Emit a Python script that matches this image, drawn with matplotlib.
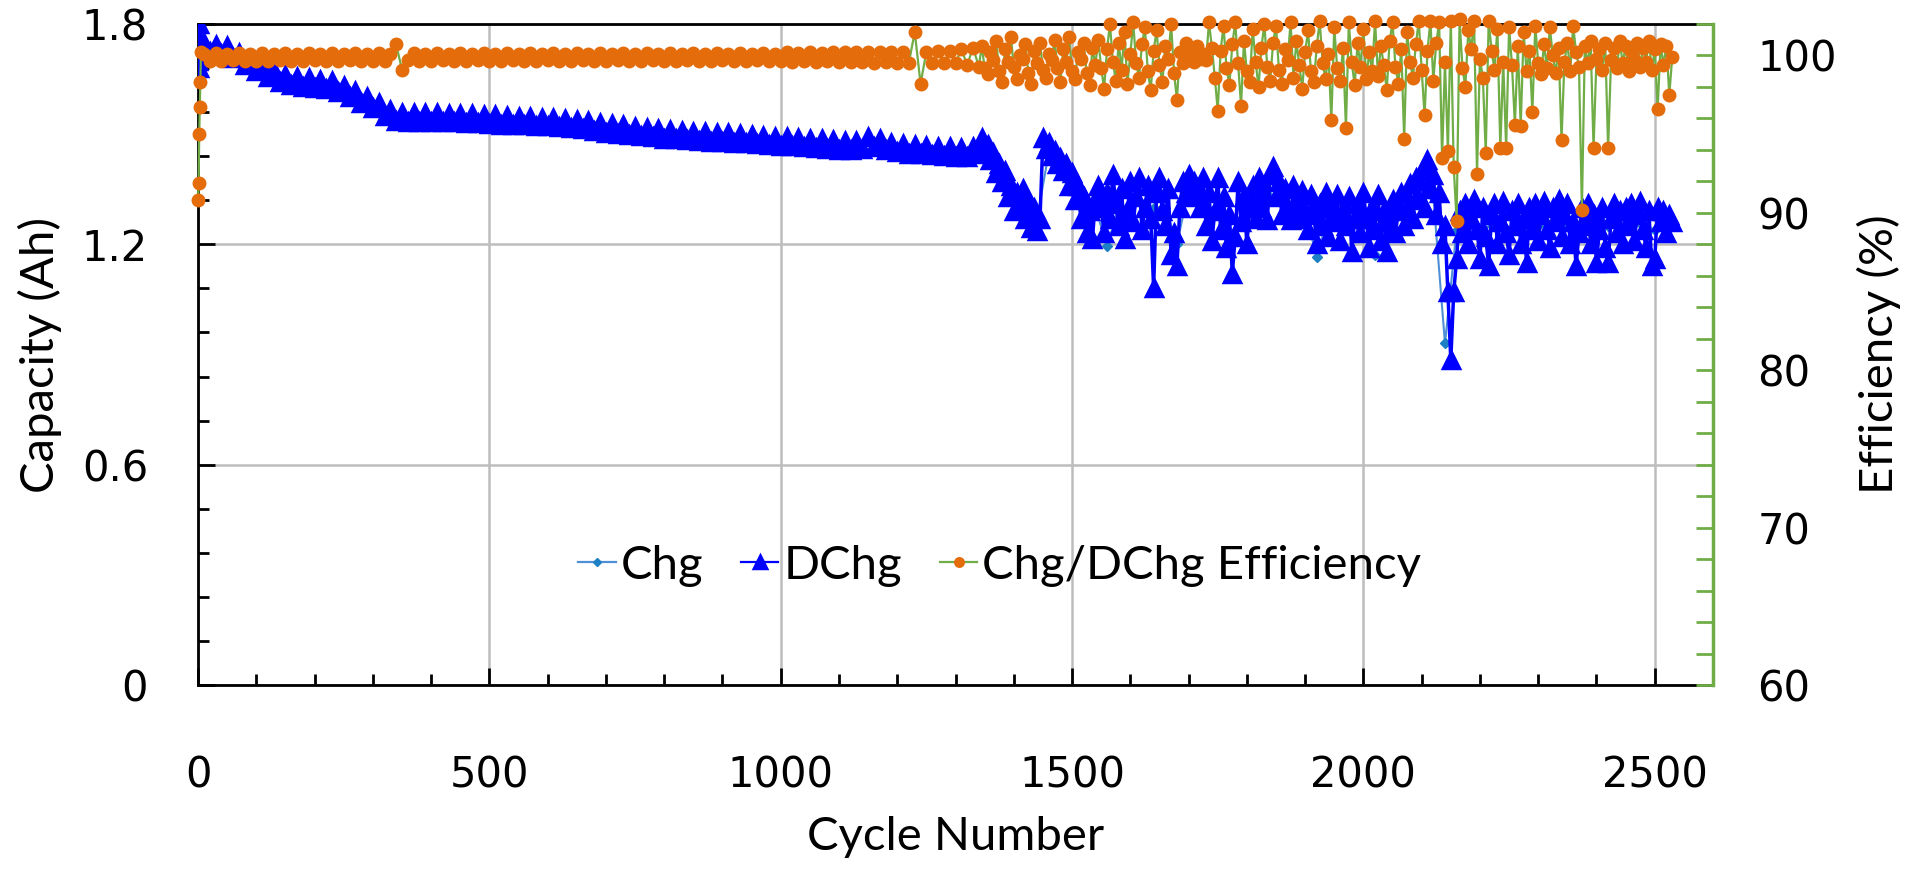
import numpy as np
import matplotlib
matplotlib.use('Agg')
import matplotlib.pyplot as plt
from matplotlib.ticker import MultipleLocator, FuncFormatter

# first cycles, read one by one
dchg_start_cycles = [0, 1, 2, 3, 5]
dchg_start = [1.700, 1.680, 1.800, 1.755, 1.745]
eff_start_cycles = [0, 1, 2, 3, 4, 5]
eff_start = [90.8, 91.9, 95.0, 96.7, 98.3, 100.2]

# discharge capacity (Ah), read every 10 cycles from 10 to 1340
dchg_early = [
    1.747, 1.723, 1.744, 1.718, 1.739, 1.708, 1.722, 1.688, 1.705, 1.673,
    1.689, 1.656, 1.672, 1.643, 1.662, 1.635, 1.656, 1.629, 1.652, 1.626,
    1.648, 1.622, 1.644, 1.616, 1.632, 1.600, 1.617, 1.586, 1.602, 1.570,
    1.584, 1.550, 1.565, 1.535, 1.557, 1.534, 1.558, 1.533, 1.558, 1.533,
    1.557, 1.533, 1.556, 1.532, 1.555, 1.531, 1.554, 1.530, 1.553, 1.528,
    1.551, 1.526, 1.550, 1.525, 1.548, 1.524, 1.547, 1.523, 1.545, 1.521,
    1.544, 1.519, 1.542, 1.517, 1.539, 1.514, 1.536, 1.510, 1.531, 1.504,
    1.527, 1.501, 1.524, 1.498, 1.520, 1.495, 1.517, 1.491, 1.514, 1.488,
    1.511, 1.486, 1.509, 1.484, 1.507, 1.482, 1.505, 1.480, 1.503, 1.478,
    1.502, 1.477, 1.500, 1.475, 1.498, 1.473, 1.496, 1.470, 1.493, 1.469,
    1.492, 1.467, 1.490, 1.465, 1.488, 1.463, 1.486, 1.461, 1.483, 1.458,
    1.481, 1.457, 1.482, 1.460, 1.492, 1.464, 1.487, 1.456, 1.477, 1.452,
    1.472, 1.447, 1.470, 1.445, 1.468, 1.443, 1.466, 1.441, 1.464, 1.439,
    1.462, 1.437, 1.464, 1.446,
]

# discharge capacity (Ah), read every 5 cycles from 1345 to 2530
dchg_late = [
    1.490, 1.455, 1.470, 1.430, 1.450, 1.395, 1.420, 1.370, 1.400, 1.330,
    1.360, 1.290, 1.340, 1.300, 1.350, 1.270, 1.320, 1.245, 1.300, 1.235,
    1.270, 1.490, 1.460, 1.475, 1.440, 1.455, 1.420, 1.435, 1.400, 1.420,
    1.360, 1.395, 1.320, 1.360, 1.270, 1.330, 1.230, 1.290, 1.215, 1.320,
    1.360, 1.300, 1.230, 1.340, 1.270, 1.390, 1.310, 1.250, 1.350, 1.215,
    1.290, 1.370, 1.260, 1.330, 1.380, 1.240, 1.300, 1.360, 1.270, 1.080,
    1.340, 1.380, 1.290, 1.250, 1.350, 1.170, 1.230, 1.140, 1.300, 1.370,
    1.340, 1.390, 1.330, 1.370, 1.345, 1.300, 1.380, 1.250, 1.340, 1.210,
    1.290, 1.380, 1.240, 1.330, 1.190, 1.280, 1.120, 1.220, 1.370, 1.260,
    1.330, 1.200, 1.300, 1.360, 1.270, 1.380, 1.300, 1.340, 1.265, 1.390,
    1.410, 1.330, 1.370, 1.280, 1.350, 1.300, 1.265, 1.360, 1.310, 1.270,
    1.345, 1.290, 1.240, 1.335, 1.280, 1.200, 1.310, 1.250, 1.340, 1.220,
    1.300, 1.260, 1.335, 1.210, 1.290, 1.250, 1.330, 1.180, 1.270, 1.310,
    1.230, 1.340, 1.270, 1.190, 1.300, 1.240, 1.335, 1.210, 1.290, 1.180,
    1.260, 1.320, 1.230, 1.290, 1.340, 1.250, 1.300, 1.365, 1.270, 1.380,
    1.320, 1.400, 1.300, 1.430, 1.350, 1.390, 1.280, 1.340, 1.200, 1.250,
    1.070, 0.885, 1.070, 1.160, 1.290, 1.230, 1.310, 1.200, 1.270, 1.320,
    1.240, 1.160, 1.300, 1.220, 1.140, 1.280, 1.310, 1.200, 1.260, 1.315,
    1.230, 1.170, 1.290, 1.250, 1.310, 1.200, 1.270, 1.150, 1.300, 1.240,
    1.310, 1.210, 1.280, 1.315, 1.240, 1.190, 1.300, 1.260, 1.320, 1.220,
    1.280, 1.310, 1.200, 1.260, 1.140, 1.230, 1.300, 1.250, 1.310, 1.200,
    1.280, 1.150, 1.240, 1.300, 1.190, 1.150, 1.270, 1.310, 1.230, 1.290,
    1.200, 1.300, 1.250, 1.310, 1.210, 1.280, 1.315, 1.240, 1.190, 1.290,
    1.140, 1.160, 1.300, 1.260, 1.290, 1.230, 1.280, 1.260,
]

# charge capacity (Ah), read every 20 cycles from 0 to 2520
chg = [
    1.720, 1.735, 1.728, 1.718, 1.700, 1.685, 1.668, 1.655, 1.647, 1.641,
    1.638, 1.634, 1.628, 1.612, 1.598, 1.582, 1.562, 1.547, 1.546, 1.545,
    1.545, 1.544, 1.543, 1.542, 1.541, 1.540, 1.538, 1.536, 1.535, 1.534,
    1.533, 1.531, 1.528, 1.525, 1.521, 1.517, 1.514, 1.511, 1.507, 1.504,
    1.501, 1.499, 1.497, 1.495, 1.493, 1.491, 1.489, 1.487, 1.485, 1.483,
    1.481, 1.479, 1.477, 1.475, 1.472, 1.470, 1.469, 1.470, 1.475, 1.467,
    1.465, 1.461, 1.458, 1.456, 1.454, 1.452, 1.450, 1.455, 1.440, 1.390,
    1.330, 1.310, 1.270, 1.450, 1.410, 1.370, 1.290, 1.300, 1.195, 1.300,
    1.310, 1.310, 1.300, 1.300, 1.200, 1.350, 1.340, 1.290, 1.280, 1.220,
    1.280, 1.310, 1.330, 1.320, 1.310, 1.290, 1.165, 1.280, 1.270, 1.270,
    1.280, 1.170, 1.270, 1.280, 1.290, 1.330, 1.330, 0.930, 1.240, 1.250,
    1.240, 1.250, 1.250, 1.240, 1.250, 1.250, 1.250, 1.250, 1.240, 1.250,
    1.250, 1.250, 1.240, 1.250, 1.250, 1.240, 1.270,
]

# charge/discharge efficiency (%), read every 10 cycles from 10 to 1340
eff_early = [
    100.1, 99.65, 100.15, 99.65, 100.1, 99.7, 100.15, 99.65, 100.1, 99.65,
    100.15, 99.65, 100.1, 99.7, 100.15, 99.65, 100.1, 99.65, 100.15, 99.7,
    100.1, 99.65, 100.15, 99.65, 100.1, 99.7, 100.15, 99.65, 100.1, 99.65,
    100.15, 99.65, 100.1, 100.7, 99.1, 99.7, 100.15, 99.65, 100.1, 99.65,
    100.15, 99.7, 100.1, 99.65, 100.15, 99.65, 100.1, 99.7, 100.15, 99.65,
    100.1, 99.65, 100.15, 99.7, 100.1, 99.65, 100.15, 99.65, 100.1, 99.7,
    100.15, 99.65, 100.1, 99.65, 100.15, 99.7, 100.1, 99.65, 100.15, 99.65,
    100.1, 99.7, 100.15, 99.65, 100.1, 99.65, 100.15, 99.7, 100.1, 99.65,
    100.15, 99.65, 100.1, 99.7, 100.15, 99.65, 100.1, 99.65, 100.15, 99.7,
    100.1, 99.65, 100.15, 99.65, 100.1, 99.7, 100.15, 99.65, 100.1, 99.65,
    100.2, 99.6, 100.15, 99.65, 100.2, 99.6, 100.15, 99.65, 100.2, 99.6,
    100.2, 99.6, 100.25, 99.6, 100.2, 99.55, 100.25, 99.6, 100.2, 99.55,
    100.25, 99.55, 101.5, 98.2, 100.25, 99.55, 100.3, 99.5, 100.3, 99.5,
    100.4, 99.4, 100.5, 99.3,
]

# charge/discharge efficiency (%), read every 5 cycles from 1345 to 2530
eff_late = [
    100.6, 99.2, 98.8, 100.2, 99.7, 100.9, 99.0, 98.3, 100.4, 99.6,
    101.2, 99.3, 98.5, 100.0, 99.8, 100.7, 98.9, 98.2, 100.3, 99.5,
    100.8, 99.1, 98.6, 100.1, 99.7, 101.0, 99.2, 98.3, 100.4, 99.6,
    101.2, 99.0, 98.5, 100.2, 99.8, 100.8, 98.9, 98.1, 100.5, 99.4,
    101.0, 99.2, 97.9, 100.4, 102.0, 99.6, 98.4, 100.8, 99.1, 101.5,
    98.2, 100.1, 102.1, 99.5, 98.6, 100.7, 101.8, 99.0, 97.8, 100.3,
    101.6, 99.4, 98.3, 100.6, 99.8, 102.0, 98.9, 97.2, 100.2, 99.5,
    100.8, 99.7, 100.3, 99.6, 100.6, 99.8, 100.1, 99.7, 102.1, 100.5,
    98.6, 96.5, 100.3, 101.9, 99.2, 98.1, 100.7, 102.1, 99.5, 96.8,
    100.9, 99.0, 98.3, 101.7, 99.6, 98.0, 100.5, 102.0, 99.3, 98.4,
    100.8, 101.9, 99.1, 98.2, 100.4, 99.7, 102.1, 98.6, 100.9, 99.4,
    97.9, 100.2, 101.6, 99.0, 98.3, 100.6, 102.2, 99.5, 98.5, 100.1,
    95.9, 101.8, 99.2, 98.4, 100.5, 95.4, 102.1, 99.6, 98.1, 100.8,
    99.3, 101.7, 98.5, 100.2, 99.0, 102.2, 98.7, 100.6, 99.4, 97.8,
    100.9, 102.1, 99.3, 98.2, 100.4, 94.7, 101.5, 99.6, 98.6, 100.7,
    102.2, 99.1, 96.2, 100.3, 102.2, 98.4, 100.8, 102.1, 93.5, 99.6,
    93.9, 102.2, 92.9, 89.5, 102.3, 99.2, 98.0, 101.6, 100.4, 102.2,
    92.5, 99.8, 98.6, 93.8, 102.2, 100.3, 99.1, 101.7, 94.1, 99.6,
    94.1, 101.8, 99.4, 95.6, 100.6, 95.5, 101.5, 99.0, 100.3, 96.4,
    101.9, 99.5, 98.8, 100.7, 99.2, 101.8, 100.0, 98.9, 100.5, 94.6,
    99.6, 100.8, 99.0, 101.9, 100.2, 99.3, 90.2, 100.6, 99.5, 100.9,
    94.1, 99.8, 100.4, 99.1, 100.8, 94.1, 99.7, 100.5, 99.2, 100.9,
    99.5, 100.6, 99.0, 100.3, 99.8, 100.8, 99.3, 100.5, 99.6, 100.9,
    99.1, 100.4, 96.6, 100.7, 99.4, 100.6, 97.5, 99.9,
]

early_x = list(10 + 10 * np.arange(len(dchg_early)))
late_x = list(1345 + 5 * np.arange(len(dchg_late)))
dchg_x = dchg_start_cycles + early_x + late_x
dchg_y = dchg_start + dchg_early + dchg_late
chg_x = 20 * np.arange(len(chg))
eff_x = eff_start_cycles + list(10 + 10 * np.arange(len(eff_early))) + \
    list(1345 + 5 * np.arange(len(eff_late)))
eff_y = eff_start + eff_early + eff_late

label_font = 'Lato'
tick_font = 'DejaVu Sans'
green = '#70ad47'

fig = plt.figure(figsize=(19.08, 8.8), dpi=100)
ax = fig.add_axes([0.1038, 0.2216, 0.794, 0.7511])
ax2 = ax.twinx()

l1, = ax.plot(chg_x, chg, color='#4f8fd6', lw=1.5, marker='D', ms=5,
              mfc='#1d7fc4', mec='#1d7fc4', label='Chg', zorder=2)
l2, = ax.plot(dchg_x, dchg_y, color='#0000ff', lw=2.5, marker='^', ms=12,
              mew=2.5, mfc='#0000ff', mec='#0000ff', label='DChg', zorder=3)
l3, = ax2.plot(eff_x, eff_y, color=green, lw=1.6, marker='o', ms=8.5,
               mew=1.5, mfc='#e46c0a', mec='#e46c0a', label='Chg/DChg Efficiency',
               clip_on=False)

ax.set_xlim(0, 2600)
ax.set_ylim(0, 1.8)
ax2.set_ylim(60, 102)

ax.xaxis.set_major_locator(MultipleLocator(500))
ax.xaxis.set_minor_locator(MultipleLocator(100))
ax.yaxis.set_major_locator(MultipleLocator(0.6))
ax.yaxis.set_minor_locator(MultipleLocator(0.12))
ax.yaxis.set_major_formatter(FuncFormatter(lambda v, p: '0' if abs(v) < 1e-9 else f'{v:.1f}'))
ax2.yaxis.set_major_locator(MultipleLocator(10))
ax2.yaxis.set_minor_locator(MultipleLocator(2))

ax.set_axisbelow(True)
ax.grid(True, which='major', color='#bdbdbd', lw=1.8)

for s in ['left', 'bottom', 'top']:
    ax.spines[s].set_linewidth(2)
    ax.spines[s].set_color('black')
ax.spines['right'].set_visible(False)
for s in ['left', 'bottom', 'top']:
    ax2.spines[s].set_visible(False)
ax2.spines['right'].set_color(green)
ax2.spines['right'].set_linewidth(2.5)

ax.tick_params(axis='both', which='major', direction='in', length=12, width=2,
               labelsize=30, colors='black')
ax.tick_params(axis='both', which='minor', direction='in', length=8, width=2)
ax.tick_params(axis='y', pad=36)
ax.tick_params(axis='x', pad=50)
ax2.tick_params(axis='y', which='both', direction='in', length=12, width=2,
                color=green, labelcolor='black', labelsize=30, pad=32)

for lab in ax.get_xticklabels() + ax.get_yticklabels() + ax2.get_yticklabels():
    lab.set_fontfamily(tick_font)

ax.set_xlabel('Cycle Number', fontsize=34, family=label_font, labelpad=14)
ax.set_ylabel('Capacity (Ah)', fontsize=34, family=label_font, labelpad=14)
ax2.set_ylabel('Efficiency (%)', fontsize=34, family=label_font, labelpad=14)

leg = ax.legend(handles=[l1, l2, l3], loc='center', bbox_to_anchor=(0.529, 0.18),
                ncol=3, frameon=False, handlelength=0.8, handletextpad=0.1,
                columnspacing=0.8, markerscale=0.75,
                prop={'family': label_font, 'size': 34})
for h in leg.legend_handles:
    h.set_linewidth(1.6)
leg.set_zorder(10)

fig.savefig('out.png', dpi=100)
